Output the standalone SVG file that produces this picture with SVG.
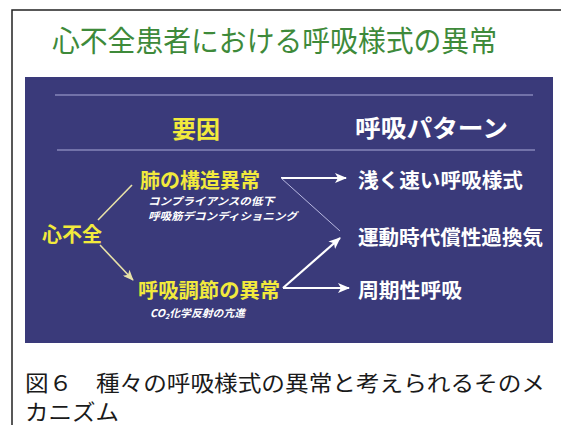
<svg xmlns="http://www.w3.org/2000/svg" width="561" height="425" viewBox="0 0 561 425">
<style>
.jp{font-family:"Noto Sans CJK JP","Noto Sans",sans-serif}
.title{font-size:29px;fill:#3e8a3a}
.hdr{font-size:24px;font-weight:bold}
.yl{fill:#f2ea3c}
.wt{fill:#ffffff}
.lbl{font-size:20px;font-weight:bold}
.sub{font-size:10.5px;font-style:italic;font-weight:bold;fill:#ffffff}
.cap{font-size:21.5px;fill:#1a1a1a}
.rule{stroke:#a9a9d8;stroke-width:1.2}
.arw{stroke:#ffffff;stroke-width:2.2;fill:none}
.thin{stroke:#b8b8e0;stroke-width:1;fill:none}
.yarw{stroke:#e8e2a8;stroke-width:1.6;fill:none}
</style>
<defs>
<marker id="wh" viewBox="0 0 12 10" refX="11" refY="5" markerWidth="12" markerHeight="10" markerUnits="userSpaceOnUse" orient="auto">
<path d="M0,0 L12,5 L0,10 L3,5 Z" fill="#ffffff"/>
</marker>
<marker id="yh" viewBox="0 0 12 10" refX="11" refY="5" markerWidth="11" markerHeight="9" markerUnits="userSpaceOnUse" orient="auto">
<path d="M0,0 L12,5 L0,10 L3,5 Z" fill="#e8e2a8"/>
</marker>
</defs>
<rect width="561" height="425" fill="#ffffff"/>
<path d="M12,425 V10 H561" fill="none" stroke="#222" stroke-width="1.5"/>
<text class="jp title" x="52" y="52" textLength="445" lengthAdjust="spacingAndGlyphs">心不全患者における呼吸様式の異常</text>
<rect x="25" y="77" width="528" height="266" fill="#3a3a7a"/>
<line class="rule" x1="55" y1="95" x2="533" y2="95"/>
<line class="rule" x1="57" y1="150" x2="535" y2="150"/>
<text class="jp hdr yl" x="172" y="138" textLength="48" lengthAdjust="spacingAndGlyphs">要因</text>
<text class="jp hdr wt" x="355" y="137" textLength="153" lengthAdjust="spacingAndGlyphs" font-weight="normal">呼吸パターン</text>
<g id="connectors">
<line class="yarw" x1="98" y1="220" x2="132" y2="185"/>
<line class="yarw" x1="100" y1="245" x2="133" y2="280" marker-end="url(#yh)"/>
<line class="arw" x1="281" y1="178" x2="346" y2="178" marker-end="url(#wh)"/>
<line class="thin" x1="281" y1="178" x2="340" y2="231"/>
<line class="arw" x1="283" y1="288" x2="340" y2="238" marker-end="url(#wh)"/>
<line class="arw" x1="283" y1="288" x2="349" y2="288" marker-end="url(#wh)"/>
</g>
<g id="shinfuzen"><text class="jp lbl yl" x="42" y="242" textLength="60" lengthAdjust="spacingAndGlyphs">心不全</text></g>
<g id="hai">
<text class="jp lbl yl" x="140" y="188" textLength="120" lengthAdjust="spacingAndGlyphs">肺の構造異常</text>
<text class="jp sub" x="148" y="205" textLength="126" lengthAdjust="spacingAndGlyphs">コンプライアンスの低下</text>
<text class="jp sub" x="148" y="220" textLength="149" lengthAdjust="spacingAndGlyphs">呼吸筋デコンディショニング</text>
</g>
<g id="chosetsu">
<text class="jp lbl yl" x="138" y="298" textLength="142" lengthAdjust="spacingAndGlyphs">呼吸調節の異常</text>
<text class="jp sub" x="150" y="317" textLength="95" lengthAdjust="spacingAndGlyphs">CO<tspan font-size="7" dy="2">2</tspan><tspan dy="-2">化学反射の亢進</tspan></text>
</g>
<g id="asaku"><text class="jp lbl wt" x="358" y="188" textLength="165" lengthAdjust="spacingAndGlyphs">浅く速い呼吸様式</text></g>
<g id="undo"><text class="jp lbl wt" x="358" y="245" textLength="185" lengthAdjust="spacingAndGlyphs">運動時代償性過換気</text></g>
<g id="shuki"><text class="jp lbl wt" x="358" y="298" textLength="104" lengthAdjust="spacingAndGlyphs">周期性呼吸</text></g>
<text class="jp cap" x="25" y="391" textLength="520" lengthAdjust="spacingAndGlyphs">図６　種々の呼吸様式の異常と考えられるそのメ</text>
<text class="jp cap" x="25" y="420" textLength="94" lengthAdjust="spacingAndGlyphs">カニズム</text>
</svg>
